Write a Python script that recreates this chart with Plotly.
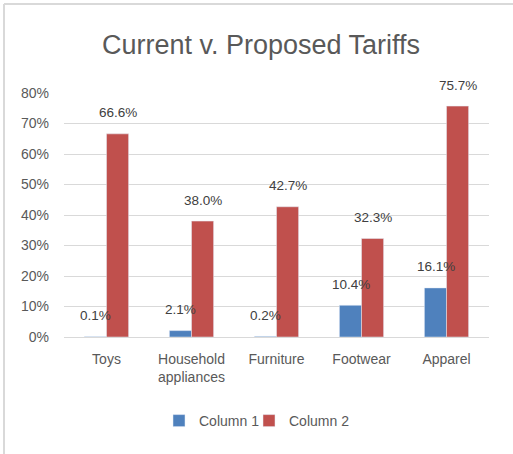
import plotly.graph_objects as go

categories = ["Toys", "Household<br>appliances", "Furniture", "Footwear", "Apparel"]
column1 = [0.001, 0.021, 0.002, 0.104, 0.161]
column2 = [0.666, 0.380, 0.427, 0.323, 0.757]
ytick_vals = [0, 0.1, 0.2, 0.3, 0.4, 0.5, 0.6, 0.7, 0.8]
ytick_text = ["0%", "10%", "20%", "30%", "40%", "50%", "60%", "70%", "80%"]

FONT = "Liberation Sans, Arial, sans-serif"
GRAY = "#595959"
W, H = 513, 454
L, R, T, B = 64, 24, 93, 117
pw, ph = W - L - R, H - T - B

fig = go.Figure()
fig.add_trace(go.Bar(name="Column 1", x=categories, y=column1, marker_color="#4f81bd",
                     legend="legend", showlegend=True))
fig.add_trace(go.Bar(name="Column 2", x=categories, y=column2, marker_color="#c0504d",
                     legend="legend2", showlegend=True))

anns = []
for series, shift in ((column1, -11), (column2, 11)):
    for c, v in zip(categories, series):
        anns.append(dict(x=c, y=v, xref="x", yref="y", text=f"{v*100:.1f}%",
                         showarrow=False, xshift=shift, yshift=21, yanchor="middle",
                         font=dict(family=FONT, size=13.5, color="#404040")))

def px_x(p):
    return (p - L) / pw

def px_y(p):
    return (H - B - p) / ph

shapes = [
    dict(type="line", xref="paper", yref="paper", x0=px_x(4), x1=px_x(513), y0=px_y(4), y1=px_y(4),
         line=dict(color="#d9d9d9", width=2)),
    dict(type="line", xref="paper", yref="paper", x0=px_x(4), x1=px_x(4), y0=px_y(4), y1=px_y(454),
         line=dict(color="#d9d9d9", width=2)),
]

legend_common = dict(orientation="h", xanchor="left", y=px_y(421), yanchor="middle",
                     font=dict(size=14, color=GRAY), bgcolor="rgba(0,0,0,0)")

fig.update_layout(
    width=W, height=H,
    margin=dict(l=L, r=R, t=T, b=B),
    paper_bgcolor="white", plot_bgcolor="white",
    showlegend=True,
    barmode="group", bargap=0.48, bargroupgap=0,
    title=dict(text="Current v. Proposed Tariffs", x=261 / W, xanchor="center",
               y=1 - 45 / H, yanchor="middle", yref="container",
               font=dict(family=FONT, size=27, color=GRAY)),
    font=dict(family=FONT, size=14, color=GRAY),
    xaxis=dict(showgrid=False, showline=False, ticks="", ticklabelstandoff=12,
               tickfont=dict(size=14, color=GRAY)),
    yaxis=dict(range=[0, 0.8], tickvals=ytick_vals, ticktext=ytick_text,
               showgrid=True, gridcolor="#d9d9d9", gridwidth=1, zeroline=True,
               zerolinecolor="#d9d9d9", zerolinewidth=1, ticks="", ticklabelstandoff=14,
               tickfont=dict(size=14, color=GRAY)),
    legend=dict(x=px_x(159), **legend_common),
    legend2=dict(x=px_x(249), **legend_common),
    annotations=anns,
    shapes=shapes,
)

fig.write_html("out.html")
